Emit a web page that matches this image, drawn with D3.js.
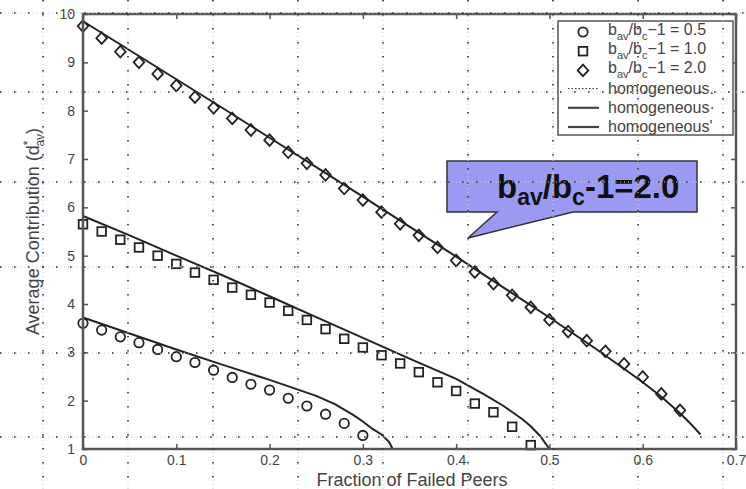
<!DOCTYPE html>
<html>
<head>
<meta charset="utf-8">
<script src="https://cdn.jsdelivr.net/npm/d3@7"></script>
<style>
  body { margin: 0; background: #fff; }
  svg { display: block; font-family: "Liberation Sans", Arial, sans-serif; }
</style>
</head>
<body>
<div id="chart"></div>
<script>
// Simulation markers (x = fraction of failed peers, y = average contribution)
var xSim05 = [0, 0.02, 0.04, 0.06, 0.08, 0.10, 0.12, 0.14, 0.16, 0.18, 0.20, 0.22, 0.24, 0.26, 0.28, 0.30];
var ySim05 = [3.60, 3.46, 3.32, 3.20, 3.06, 2.91, 2.79, 2.63, 2.48, 2.34, 2.22, 2.05, 1.89, 1.72, 1.53, 1.28];

var xSim10 = [0, 0.02, 0.04, 0.06, 0.08, 0.10, 0.12, 0.14, 0.16, 0.18, 0.20, 0.22, 0.24,
              0.26, 0.28, 0.30, 0.32, 0.34, 0.36, 0.38, 0.40, 0.42, 0.44, 0.46, 0.48];
var ySim10 = [5.65, 5.50, 5.33, 5.17, 5.00, 4.83, 4.65, 4.50, 4.34, 4.19, 4.03, 3.86, 3.67,
              3.48, 3.28, 3.10, 2.94, 2.77, 2.59, 2.38, 2.20, 1.94, 1.76, 1.46, 1.08];

var xSim20 = [0, 0.02, 0.04, 0.06, 0.08, 0.10, 0.12, 0.14, 0.16, 0.18, 0.20, 0.22, 0.24, 0.26, 0.28, 0.30, 0.32,
              0.34, 0.36, 0.38, 0.40, 0.42, 0.44, 0.46, 0.48, 0.50, 0.52, 0.54, 0.56, 0.58, 0.60, 0.62, 0.64];
var ySim20 = [9.75, 9.50, 9.22, 9.00, 8.76, 8.52, 8.28, 8.06, 7.84, 7.60, 7.39, 7.14, 6.91, 6.67, 6.39, 6.15, 5.90,
              5.66, 5.42, 5.17, 4.90, 4.66, 4.42, 4.18, 3.93, 3.67, 3.43, 3.24, 3.02, 2.76, 2.49, 2.14, 1.80];

// Homogeneous (analytic) curves
var xHom05 = [0, 0.05, 0.10, 0.15, 0.20, 0.25, 0.27, 0.29, 0.30, 0.31, 0.32, 0.328, 0.332];
var yHom05 = [3.72, 3.39, 3.06, 2.74, 2.43, 2.10, 1.93, 1.70, 1.57, 1.42, 1.30, 1.15, 1.00];

var xHom10 = [0, 0.05, 0.10, 0.15, 0.20, 0.25, 0.30, 0.35, 0.40, 0.43, 0.45, 0.47, 0.48, 0.49, 0.50];
var yHom10 = [5.82, 5.42, 5.00, 4.59, 4.16, 3.73, 3.30, 2.87, 2.45, 2.13, 1.90, 1.63, 1.47, 1.27, 1.00];

var xHom20 = [0, 0.05, 0.10, 0.15, 0.20, 0.25, 0.30, 0.35, 0.40, 0.45, 0.50, 0.55, 0.58, 0.60, 0.62, 0.64, 0.65, 0.662];
var yHom20 = [9.85, 9.25, 8.65, 8.05, 7.44, 6.83, 6.22, 5.60, 4.98, 4.35, 3.72, 3.07, 2.66, 2.38, 2.08, 1.74, 1.55, 1.30];

var xTicks = [0, 0.1, 0.2, 0.3, 0.4, 0.5, 0.6, 0.7];
var xTickLabels = ["0", "0.1", "0.2", "0.3", "0.4", "0.5", "0.6", "0.7"];
var yTicks = [1, 2, 3, 4, 5, 6, 7, 8, 9, 10];

var legendValues = ["0.5", "1.0", "2.0"];
var legendShapes = ["circle", "square", "diamond"];
var legendLines = ["homogeneous.", "homogeneous\u00b7", "homogeneous'"];

var width = 746, height = 489;
var margin = {top: 14, right: 10, bottom: 40, left: 83};

var svg = d3.select("#chart").append("svg")
    .attr("width", width)
    .attr("height", height);

var x = d3.scaleLinear().domain([0, 0.7]).range([margin.left, width - margin.right]);
var y = d3.scaleLinear().domain([1, 10]).range([height - margin.bottom, margin.top]);

var ink = "#222";
var axisColor = "#555";
var labelColor = "#444";

// Curves
var line = d3.line()
    .x(function(d) { return x(d[0]); })
    .y(function(d) { return y(d[1]); });

[[xHom05, yHom05], [xHom10, yHom10], [xHom20, yHom20]].forEach(function(s) {
    svg.append("path")
        .datum(d3.zip(s[0], s[1]))
        .attr("d", line)
        .attr("fill", "none")
        .attr("stroke", ink)
        .attr("stroke-width", 2);
});

// Marker generator
function marker(g, shape, cx, cy) {
    if (shape === "circle") {
        g.append("circle").attr("cx", cx).attr("cy", cy).attr("r", 4.7);
    } else if (shape === "square") {
        g.append("rect").attr("x", cx - 4.3).attr("y", cy - 4.3).attr("width", 8.6).attr("height", 8.6);
    } else {
        g.append("path").attr("d", "M" + cx + "," + (cy - 5.8) + "L" + (cx + 5.3) + "," + cy +
            "L" + cx + "," + (cy + 5.8) + "L" + (cx - 5.3) + "," + cy + "Z");
    }
}

var marks = svg.append("g")
    .attr("fill", "none")
    .attr("stroke", ink)
    .attr("stroke-width", 1.8);

[[xSim05, ySim05, "circle"], [xSim10, ySim10, "square"], [xSim20, ySim20, "diamond"]].forEach(function(s) {
    d3.zip(s[0], s[1]).forEach(function(d) {
        marker(marks, s[2], x(d[0]), y(d[1]));
    });
});

// Axes (MATLAB-like box with inward ticks)
var x0 = x(0), x1 = x(0.7), y0 = y(1), y1 = y(10);

svg.append("g")
    .attr("transform", "translate(0," + y0 + ")")
    .call(d3.axisBottom(x).tickValues(xTicks).tickSize(-5).tickPadding(6)
        .tickFormat(function(d, i) { return xTickLabels[i]; }))
    .call(styleAxis);

svg.append("g")
    .attr("transform", "translate(0," + y1 + ")")
    .call(d3.axisTop(x).tickValues(xTicks).tickSize(-5).tickFormat(""))
    .call(styleAxis);

svg.append("g")
    .attr("transform", "translate(" + x0 + ",0)")
    .call(d3.axisLeft(y).tickValues(yTicks).tickSize(-5).tickPadding(8))
    .call(styleAxis);

svg.append("g")
    .attr("transform", "translate(" + x1 + ",0)")
    .call(d3.axisRight(y).tickValues(yTicks).tickSize(-5).tickFormat(""))
    .call(styleAxis);

function styleAxis(g) {
    g.select(".domain").remove();
    g.selectAll(".tick line").attr("stroke", axisColor).attr("stroke-width", 1.5);
    g.selectAll(".tick text")
        .attr("fill", labelColor)
        .style("font-size", "14px")
        .style("font-family", "'Liberation Sans', Arial, sans-serif");
}

svg.append("rect")
    .attr("x", x0).attr("y", y1)
    .attr("width", x1 - x0).attr("height", y0 - y1)
    .attr("fill", "none")
    .attr("stroke", axisColor)
    .attr("stroke-width", 2.5);

// Axis titles
svg.append("text")
    .attr("x", 412)
    .attr("y", 486)
    .attr("text-anchor", "middle")
    .attr("fill", labelColor)
    .style("font-size", "18px")
    .text("Fraction of Failed Peers");

var yTitle = svg.append("text")
    .attr("transform", "translate(39," + ((y0 + y1) / 2) + ") rotate(-90)")
    .attr("text-anchor", "middle")
    .attr("fill", labelColor)
    .style("font-size", "18px");
yTitle.append("tspan").text("Average Contribution (d");
yTitle.append("tspan").attr("dy", -7).style("font-size", "12px").text("*");
yTitle.append("tspan").attr("dx", -6).attr("dy", 12).style("font-size", "12px").text("av");
yTitle.append("tspan").attr("dy", -5).text(")");

// Legend
var lg = svg.append("g");
lg.append("rect")
    .attr("x", 558).attr("y", 21)
    .attr("width", 175).attr("height", 114)
    .attr("fill", "#fff")
    .attr("stroke", axisColor)
    .attr("stroke-width", 1.5);

var rowY = function(i) { return 31 + i * 19.2; };
var legendFont = "16px";

legendValues.forEach(function(v, i) {
    var g = lg.append("g").attr("fill", "none").attr("stroke", ink).attr("stroke-width", 1.8);
    marker(g, legendShapes[i], 583, rowY(i) + 1);
    var t = lg.append("text")
        .attr("x", 608).attr("y", rowY(i) + 4)
        .attr("fill", labelColor)
        .style("font-size", legendFont);
    t.append("tspan").text("b");
    t.append("tspan").attr("dy", 5).style("font-size", "11px").text("av");
    t.append("tspan").attr("dy", -5).text("/b");
    t.append("tspan").attr("dy", 5).style("font-size", "11px").text("c");
    t.append("tspan").attr("dy", -5).text("\u22121 = " + v);
});

legendLines.forEach(function(name, i) {
    var ry = rowY(i + 3);
    lg.append("line")
        .attr("x1", 568).attr("x2", 599)
        .attr("y1", ry).attr("y2", ry)
        .attr("stroke", i === 0 ? ink : "#444")
        .attr("stroke-width", i === 0 ? 1 : 2.2)
        .attr("stroke-dasharray", i === 0 ? "1.5,2" : null);
    lg.append("text")
        .attr("x", 608).attr("y", ry + 5)
        .attr("fill", labelColor)
        .style("font-size", legendFont)
        .text(name);
});

// Callout
var co = svg.append("g");
co.append("path")
    .attr("d", "M447,161H697V212H573L468,238L497,212H447Z")
    .attr("fill", "#9a9af2")
    .attr("stroke", "#333")
    .attr("stroke-width", 1.5);

var ct = co.append("text")
    .attr("x", 497).attr("y", 198)
    .attr("fill", "#111")
    .style("font-size", "33px")
    .style("font-weight", "bold");
ct.append("tspan").text("b");
ct.append("tspan").attr("dy", 7).style("font-size", "23px").text("av");
ct.append("tspan").attr("dy", -7).text("/b");
ct.append("tspan").attr("dy", 7).style("font-size", "23px").text("c");
ct.append("tspan").attr("dy", -7).text("-1=2.0");

// Dotted grid of the scanned page, laid over everything
var gridCols = d3.range(9).map(function(k) { return 43 + k * 85; });
var gridRows = [13, 92, 182, 267, 353, 437];
var grid = svg.append("g").attr("pointer-events", "none");

function dotted(x1, y1, x2, y2) {
    grid.append("line").attr("x1", x1).attr("x2", x2).attr("y1", y1).attr("y2", y2)
        .attr("stroke", "#ccc").attr("stroke-width", 1).attr("stroke-dasharray", "1,3");
    grid.append("line").attr("x1", x1).attr("x2", x2).attr("y1", y1).attr("y2", y2)
        .attr("stroke", "#333").attr("stroke-width", 1.6).attr("stroke-dasharray", "1.6,12.4");
}
gridCols.forEach(function(gx) { dotted(gx, 0, gx, height); });
gridRows.forEach(function(gy) { dotted(0, gy, width, gy); });
</script>
</body>
</html>
